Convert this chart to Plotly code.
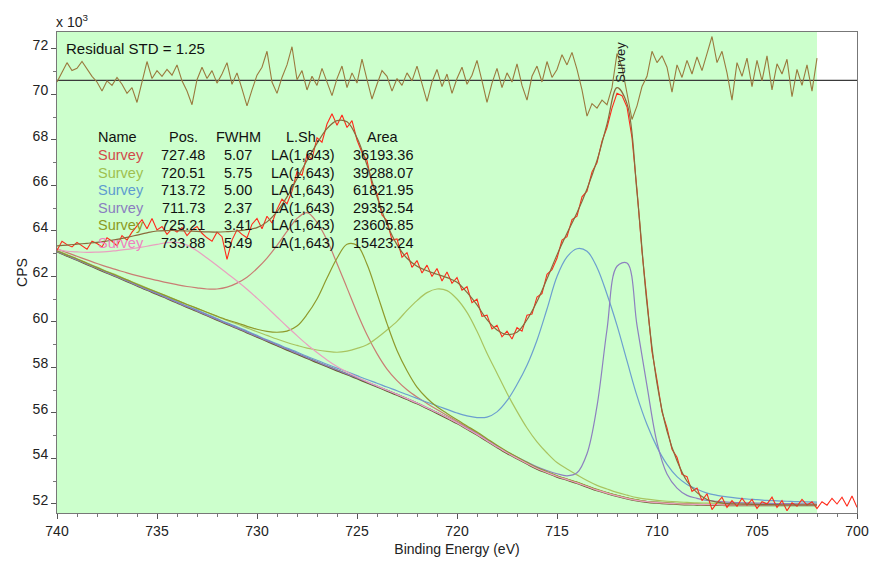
import numpy as np
import plotly.graph_objects as go

# ---------------- data (values in units of 10^3 CPS) ----------------
# fine grid for component curves: 740 -> 702 eV, step 0.5 eV (77 points)
energy_comp = 740 - 0.5 * np.arange(77)

background = [
    63.10, 62.91, 62.73, 62.54, 62.35, 62.16, 61.98, 61.79, 61.60, 61.41,
    61.23, 61.04, 60.85, 60.66, 60.48, 60.29, 60.10, 59.91, 59.73, 59.54,
    59.35, 59.16, 58.97, 58.78, 58.60, 58.41, 58.23, 58.05, 57.87, 57.70,
    57.52, 57.34, 57.16, 56.98, 56.80, 56.61, 56.42, 56.21, 56.00, 55.78,
    55.55, 55.30, 55.05, 54.77, 54.50, 54.24, 54.00, 53.77, 53.55, 53.37,
    53.20, 53.06, 52.92, 52.76, 52.60, 52.47, 52.35, 52.24, 52.15, 52.09,
    52.05, 52.02, 52.00, 51.98, 51.97, 51.96, 51.96, 51.95, 51.95, 51.95,
    51.95, 51.95, 51.95, 51.95, 51.95, 51.95, 51.95]

# Survey 727.48
comp_727 = [
    63.22, 63.05, 62.89, 62.73, 62.57, 62.42, 62.29, 62.16, 62.04, 61.93,
    61.83, 61.73, 61.64, 61.56, 61.50, 61.45, 61.45, 61.53, 61.71, 61.97,
    62.35, 62.81, 63.37, 63.98, 64.55, 64.81, 64.38, 63.60, 62.57, 61.50,
    60.42, 59.44, 58.61, 57.93, 57.42, 57.02, 56.70, 56.42, 56.15, 55.89,
    55.64, 55.38, 55.12, 54.83, 54.55, 54.29, 54.04, 53.81, 53.58, 53.40,
    53.23, 53.09, 52.95, 52.78, 52.62, 52.49, 52.37, 52.26, 52.17, 52.11,
    52.07, 52.04, 52.02, 52.00, 51.99, 51.98, 51.98, 51.97, 51.97, 51.97,
    51.97, 51.97, 51.97, 51.97, 51.97, 51.97, 51.97]

# Survey 720.51
comp_720 = [
    63.14, 62.96, 62.78, 62.59, 62.41, 62.22, 62.05, 61.86, 61.68, 61.49,
    61.32, 61.14, 60.95, 60.77, 60.60, 60.42, 60.24, 60.07, 59.91, 59.74,
    59.57, 59.41, 59.25, 59.10, 58.97, 58.85, 58.77, 58.71, 58.67, 58.72,
    58.84, 59.00, 59.30, 59.65, 60.03, 60.51, 60.94, 61.29, 61.45, 61.38,
    61.01, 60.42, 59.59, 58.63, 57.75, 56.87, 56.07, 55.34, 54.73, 54.24,
    53.82, 53.54, 53.28, 53.03, 52.82, 52.66, 52.51, 52.39, 52.28, 52.21,
    52.16, 52.12, 52.09, 52.07, 52.05, 52.04, 52.03, 52.02, 52.01, 52.01,
    52.00, 52.00, 52.00, 52.00, 51.99, 51.99, 51.99]

# Survey 713.72
comp_713 = [
    63.12, 62.93, 62.75, 62.56, 62.38, 62.19, 62.01, 61.82, 61.63, 61.44,
    61.27, 61.08, 60.89, 60.70, 60.53, 60.34, 60.15, 59.96, 59.79, 59.60,
    59.41, 59.22, 59.04, 58.85, 58.68, 58.49, 58.32, 58.14, 57.97, 57.81,
    57.64, 57.47, 57.31, 57.14, 56.98, 56.81, 56.64, 56.47, 56.32, 56.16,
    56.00, 55.87, 55.80, 55.82, 56.05, 56.54, 57.25, 58.10, 59.20, 60.57,
    62.00, 62.86, 63.22, 63.11, 62.40, 61.22, 59.85, 58.29, 56.75, 55.49,
    54.50, 53.74, 53.20, 52.86, 52.65, 52.48, 52.38, 52.31, 52.26, 52.22,
    52.19, 52.16, 52.14, 52.12, 52.10, 52.09, 52.08]

# Survey 711.73
comp_711 = [
    63.11, 62.92, 62.74, 62.55, 62.36, 62.17, 61.99, 61.80, 61.61, 61.42,
    61.24, 61.05, 60.86, 60.67, 60.49, 60.30, 60.11, 59.92, 59.74, 59.55,
    59.36, 59.18, 58.99, 58.80, 58.62, 58.43, 58.25, 58.07, 57.89, 57.72,
    57.54, 57.36, 57.18, 57.00, 56.82, 56.63, 56.44, 56.23, 56.02, 55.80,
    55.57, 55.33, 55.08, 54.80, 54.54, 54.29, 54.06, 53.84, 53.63, 53.47,
    53.33, 53.24, 53.37, 54.21, 56.30, 59.67, 62.45, 62.59, 59.85, 57.19,
    54.70, 53.32, 52.70, 52.38, 52.25, 52.16, 52.12, 52.08, 52.06, 52.05,
    52.04, 52.03, 52.02, 52.02, 52.01, 52.01, 52.00]

# Survey 725.21
comp_725 = [
    63.13, 62.94, 62.77, 62.58, 62.39, 62.21, 62.03, 61.85, 61.66, 61.48,
    61.31, 61.13, 60.95, 60.77, 60.60, 60.43, 60.26, 60.10, 59.96, 59.81,
    59.68, 59.59, 59.55, 59.60, 59.82, 60.33, 61.01, 61.93, 62.80, 63.42,
    63.37, 62.54, 61.26, 59.93, 58.75, 57.86, 57.14, 56.65, 56.27, 55.98,
    55.70, 55.43, 55.16, 54.87, 54.58, 54.31, 54.06, 53.83, 53.60, 53.42,
    53.24, 53.10, 52.96, 52.80, 52.64, 52.50, 52.38, 52.27, 52.18, 52.11,
    52.07, 52.04, 52.02, 51.99, 51.98, 51.97, 51.97, 51.96, 51.96, 51.96,
    51.96, 51.96, 51.96, 51.96, 51.96, 51.96, 51.96]

# Survey 733.88
comp_733 = [
    63.18, 63.11, 63.08, 63.06, 63.07, 63.09, 63.14, 63.19, 63.26, 63.33,
    63.41, 63.49, 63.50, 63.38, 63.13, 62.81, 62.48, 62.14, 61.80, 61.44,
    61.05, 60.64, 60.22, 59.80, 59.40, 59.01, 58.66, 58.33, 58.04, 57.80,
    57.58, 57.38, 57.19, 57.00, 56.82, 56.63, 56.44, 56.23, 56.02, 55.80,
    55.57, 55.31, 55.06, 54.78, 54.51, 54.25, 54.01, 53.78, 53.56, 53.38,
    53.21, 53.07, 52.93, 52.77, 52.61, 52.48, 52.36, 52.25, 52.16, 52.10,
    52.06, 52.03, 52.01, 51.99, 51.98, 51.97, 51.97, 51.96, 51.96, 51.96,
    51.96, 51.96, 51.96, 51.96, 51.96, 51.96, 51.96]

envelope = [
    63.35, 63.38, 63.42, 63.46, 63.50, 63.56, 63.63, 63.72, 63.82, 63.92,
    64.00, 64.02, 64.02, 64.00, 63.98, 63.96, 63.95, 63.97, 64.00, 64.06,
    64.15, 64.40, 64.85, 65.50, 66.30, 67.10, 67.85, 68.50, 68.85, 68.80,
    68.10, 66.90, 65.50, 64.30, 63.40, 62.80, 62.45, 62.25, 62.10, 61.95,
    61.75, 61.30, 60.75, 60.10, 59.65, 59.45, 59.55, 60.10, 60.90, 61.90,
    62.95, 63.90, 64.80, 65.85, 67.10, 68.70, 70.30, 69.60, 65.70, 60.80,
    57.30, 55.20, 53.90, 53.00, 52.50, 52.20, 52.08, 52.02, 52.00, 51.99,
    51.98, 51.97, 51.97, 51.96, 51.96, 51.96, 51.96]

# measured spectrum: 740 -> 700 eV, step 0.25 eV (one row per eV)
energy_data = 740 - 0.25 * np.arange(161)
spectrum = [
    63.15, 63.55, 63.40, 63.30,   # 740
    63.50, 63.35, 63.20, 63.55,   # 739
    63.45, 63.30, 63.70, 63.55,   # 738
    63.35, 63.80, 63.60, 63.95,   # 737
    64.25, 64.50, 64.10, 64.55,   # 736
    64.05, 64.20, 63.85, 64.10,   # 735
    63.95, 64.15, 63.80, 64.05,   # 734
    64.20, 63.90, 63.70, 63.55,   # 733
    63.95, 63.75, 62.75, 63.60,   # 732
    64.05, 63.85, 63.70, 64.30,   # 731
    64.55, 64.10, 64.65, 64.35,   # 730
    64.95, 65.40, 65.20, 65.75,   # 729
    66.60, 66.45, 67.35, 67.15,   # 728
    68.10, 67.90, 68.70, 69.15,   # 727
    68.65, 69.10, 68.55, 68.85,   # 726
    68.00, 67.45, 67.10, 66.05,   # 725
    65.65, 64.70, 64.45, 63.60,   # 724
    63.65, 62.85, 63.05, 62.40,   # 723
    62.70, 62.15, 62.50, 62.00,   # 722
    62.35, 61.80, 62.20, 61.70,   # 721
    61.95, 61.40, 61.55, 60.85,   # 720
    61.00, 60.25, 60.30, 59.70,   # 719
    59.85, 59.35, 59.60, 59.25,   # 718
    59.75, 59.60, 60.30, 60.35,   # 717
    61.10, 61.25, 62.10, 62.30,   # 716
    62.80, 63.60, 63.75, 64.50,   # 715
    64.65, 65.50, 65.75, 66.60,   # 714
    67.00, 67.95, 68.55, 69.40,   # 713
    70.05, 69.95, 69.45, 68.10,   # 712
    65.80, 63.10, 60.95, 58.70,   # 711
    57.45, 56.05, 55.35, 54.40,   # 710
    54.05, 53.30, 53.20, 52.55,   # 709
    52.70, 52.15, 52.45, 51.75,   # 708
    52.05, 52.30, 51.85, 52.15,   # 707
    51.90, 52.25, 51.95, 52.20,   # 706
    51.80, 52.10, 52.00, 52.30,   # 705
    51.85, 52.15, 51.70, 52.05,   # 704
    51.90, 52.20, 51.95, 52.10,   # 703
    51.80, 52.10, 51.95, 52.25,   # 702
    52.00, 52.30, 51.90, 52.35,   # 701
    51.85]                        # 700

# residual trace (drawn offset at the top): 740 -> 702 eV, step 0.25 eV
energy_resid = 740 - 0.25 * np.arange(153)
residual_base = 70.62
residual = [
    70.55, 70.95, 71.40, 71.05,   # 740
    71.15, 71.45, 71.10, 70.80,   # 739
    70.55, 70.15, 70.60, 70.40,   # 738
    70.75, 70.45, 70.05, 70.30,   # 737
    69.65, 70.55, 71.45, 70.70,   # 736
    71.05, 70.80, 71.10, 70.85,   # 735
    71.30, 70.60, 70.15, 69.55,   # 734
    70.65, 71.20, 70.70, 71.05,   # 733
    70.50, 70.90, 71.40, 70.45,   # 732
    70.95, 70.25, 69.50, 70.20,   # 731
    70.85, 71.20, 71.90, 70.55,   # 730
    70.05, 70.75, 71.30, 72.10,   # 729
    70.65, 71.05, 70.20, 70.80,   # 728
    70.40, 71.15, 70.55, 69.95,   # 727
    70.70, 71.25, 70.30, 70.95,   # 726
    70.50, 71.55, 70.65, 69.80,   # 725
    70.45, 71.05, 70.80, 70.15,   # 724
    70.70, 70.40, 70.95, 70.60,   # 723
    71.25, 70.50, 69.70, 70.55,   # 722
    71.10, 70.35, 70.90, 70.05,   # 721
    70.70, 71.20, 70.45, 70.85,   # 720
    71.50, 70.60, 69.65, 70.50,   # 719
    71.15, 70.30, 70.95, 70.55,   # 718
    71.35, 70.40, 69.75, 70.80,   # 717
    71.25, 70.55, 71.45, 70.75,   # 716
    71.10, 71.75, 71.30, 71.85,   # 715
    71.10, 70.20, 69.05, 69.60,   # 714
    69.40, 69.75, 69.55, 70.30,   # 713
    71.80, 71.20, 70.10, 68.90,   # 712
    69.50, 70.35, 70.80, 71.90,   # 711
    71.40, 71.70, 71.20, 70.10,   # 710
    71.30, 70.75, 71.50, 70.90,   # 709
    71.65, 71.05, 71.80, 72.55,   # 708
    71.40, 71.90, 70.95, 69.75,   # 707
    71.40, 70.80, 71.60, 70.35,   # 706
    71.50, 70.60, 71.70, 70.20,   # 705
    71.35, 70.90, 71.55, 69.90,   # 704
    71.10, 70.40, 71.30, 70.15,   # 703
    71.60]                        # 702

# fit table
table_names = ["Survey"] * 6
table_pos = ["727.48", "720.51", "713.72", "711.73", "725.21", "733.88"]
table_fwhm = ["5.07", "5.75", "5.00", "2.37", "3.41", "5.49"]
table_lsh = ["LA(1,643)"] * 6
table_area = ["36193.36", "39288.07", "61821.95", "29352.54", "23605.85", "15423.24"]
table_colors = ["#d24a4a", "#9fbf4f", "#5e9bd0", "#8a7dc0", "#8c9a22", "#f080c0"]
comp_colors = ["#c97d73", "#a9c460", "#6c9fcf", "#8d80bf", "#8f9a2c", "#e9a0c0"]

fit_region = [740, 702]
x_range = [740, 700]
y_range = [51.604, 72.747]

# ---------------- figure ----------------
FONT = "Liberation Sans, Arial, sans-serif"
W, H = 870, 561
L, R, T, B = 57, 13, 32, 48
PW, PH = W - L - R, H - T - B


def px(x):
    """window pixel x -> paper coordinate"""
    return (x - L) / PW


def py(y):
    """window pixel y -> paper coordinate"""
    return (H - B - y) / PH


fig = go.Figure()

fig.add_shape(type="rect", xref="x", yref="paper", x0=fit_region[0], x1=fit_region[1],
              y0=0, y1=1, fillcolor="#ccffcc", line_width=0, layer="below")

fig.add_trace(go.Scatter(x=energy_comp, y=background, mode="lines",
                         line=dict(color="#6b5a2e", width=2, shape="spline")))
comps = [comp_727, comp_720, comp_713, comp_711, comp_725, comp_733]
for c, col in zip(comps, comp_colors):
    fig.add_trace(go.Scatter(x=energy_comp, y=c, mode="lines",
                             line=dict(color=col, width=1.2, shape="spline")))

fig.add_trace(go.Scatter(x=energy_data, y=spectrum, mode="lines",
                         line=dict(color="#ff2a1a", width=1.1)))
fig.add_trace(go.Scatter(x=energy_comp, y=envelope, mode="lines",
                         line=dict(color="#8a6a3c", width=1.2, shape="spline")))

fig.add_trace(go.Scatter(x=[x_range[0], x_range[1]], y=[residual_base, residual_base],
                         mode="lines", line=dict(color="#3a3a3a", width=1.2)))
fig.add_trace(go.Scatter(x=energy_resid, y=residual, mode="lines",
                         line=dict(color="#9a7a3e", width=1.1)))

annotations = []
hdr_y = 137
row_y = [155, 172.5, 190, 207.5, 225, 242.5]
cols = [(96, "left", "Name", table_names),
        (183, "center", "Pos.", table_pos),
        (238, "center", "FWHM", table_fwhm),
        (303, "center", "L.Sh.", table_lsh),
        (383, "center", "Area", table_area)]
for ci, (cx, anchor, head, vals) in enumerate(cols):
    annotations.append(dict(x=px(cx), y=py(hdr_y), xref="paper", yref="paper",
                            text=head, showarrow=False, xanchor=anchor, yanchor="middle",
                            font=dict(family=FONT, size=14.5, color="#111")))
    for ri, v in enumerate(vals):
        color = table_colors[ri] if ci == 0 else "#111"
        annotations.append(dict(x=px(cx), y=py(row_y[ri]), xref="paper", yref="paper",
                                text=v, showarrow=False, xanchor=anchor, yanchor="middle",
                                font=dict(family=FONT, size=14.5, color=color)))

annotations.append(dict(x=px(64), y=py(49), xref="paper", yref="paper",
                        text="Residual STD = 1.25", showarrow=False,
                        xanchor="left", yanchor="middle",
                        font=dict(family=FONT, size=15, color="#111")))
annotations.append(dict(x=px(54), y=py(21), xref="paper", yref="paper",
                        text="x 10<sup>3</sup>", showarrow=False,
                        xanchor="left", yanchor="middle",
                        font=dict(family=FONT, size=14, color="#222")))
annotations.append(dict(x=711.8, y=71.4, xref="x", yref="y", text="Survey",
                        showarrow=False, textangle=-90, xanchor="center", yanchor="middle",
                        font=dict(family=FONT, size=13, color="#222")))

fig.update_layout(
    width=W, height=H,
    margin=dict(l=L, r=R, t=T, b=B, pad=0, autoexpand=False),
    paper_bgcolor="white", plot_bgcolor="white",
    showlegend=False, hovermode=False,
    font=dict(family=FONT, size=14, color="#222"),
    annotations=annotations,
)
fig.update_xaxes(
    range=x_range, showgrid=False, zeroline=False, automargin=False,
    showline=True, mirror=True, linecolor="#777", linewidth=1,
    ticks="outside", ticklen=5, tickcolor="#555", dtick=5, tick0=700,
    minor=dict(ticks="outside", ticklen=3, dtick=1, tickcolor="#777"),
    tickfont=dict(family=FONT, size=14, color="#222"),
    title=dict(text="Binding Energy (eV)", standoff=6,
               font=dict(family=FONT, size=14, color="#222")),
)
fig.update_yaxes(
    range=y_range, showgrid=False, zeroline=False, automargin=False,
    showline=True, mirror=True, linecolor="#777", linewidth=1,
    ticks="outside", ticklen=5, tickcolor="#555", dtick=2, tick0=52,
    minor=dict(ticks="outside", ticklen=3, dtick=1, tickcolor="#777"),
    tickfont=dict(family=FONT, size=14, color="#222"),
    ticklabelshift=-4,
    title=dict(text="CPS", standoff=1, font=dict(family=FONT, size=14, color="#222")),
)

# place the figure at the very top-left of the page (no default body margin)
fig.write_html(
    "out.html",
    config={"displayModeBar": False},
    post_script="document.body.style.margin='0px';"
                "document.documentElement.style.overflow='hidden';",
)
